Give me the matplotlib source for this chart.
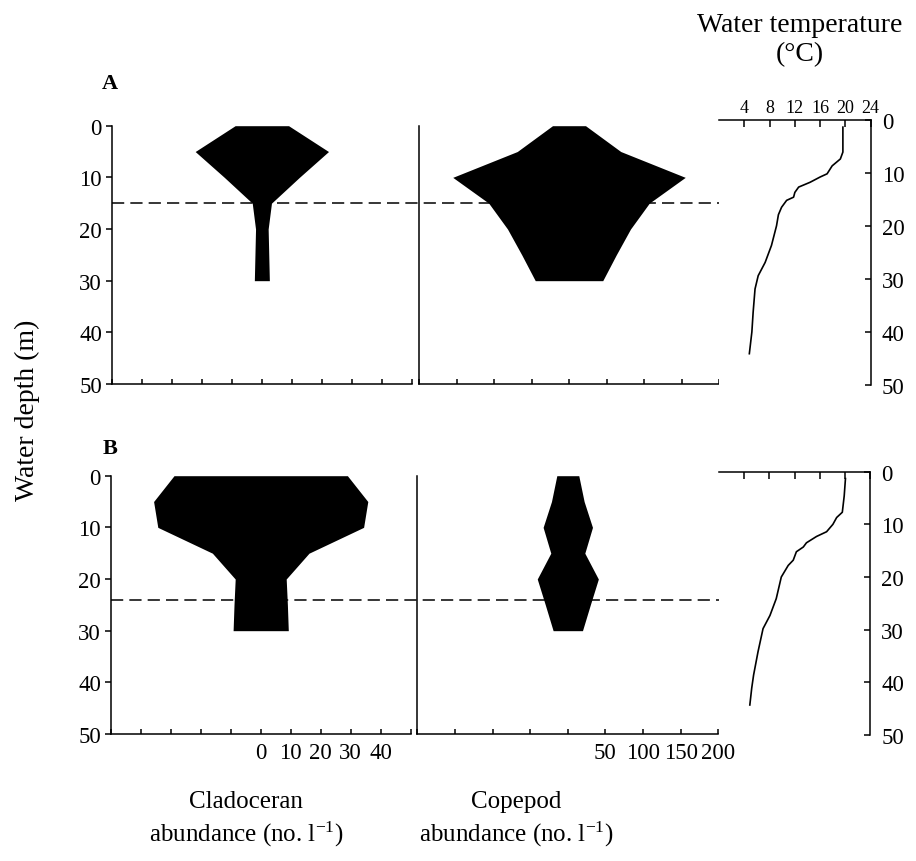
import numpy as np
import matplotlib
matplotlib.use("Agg")
import matplotlib.pyplot as plt
from matplotlib.lines import Line2D
from matplotlib.transforms import blended_transform_factory

plt.rcParams['font.family'] = ['Liberation Serif', 'DejaVu Serif']
plt.rcParams['mathtext.default'] = 'regular'

# --- sampling depths of the net hauls (m) ---
kite_depth = [0, 5, 10, 15, 20, 25, 30]

# kite half-widths (abundance, no. l-1)
clad_a = [8.9, 22.2, 12.5, 3.2, 2.1, 2.3, 2.5]
cope_a = [22, 69, 155, 107, 82, 63, 45]
clad_b = [28.9, 35.7, 34.3, 16.1, 8.5, 8.9, 9.2]
cope_b = [14.6, 21.7, 32.8, 22.6, 40.6, 29.9, 19.5]

# thermocline depth (dashed line)
thermo_a = 15
thermo_b = 24

# --- temperature profiles ---
temp_depth_a = [1.4, 6.1, 7.4, 8.7, 10.2, 10.8, 11.8, 12.7, 13.7, 14.6, 15.2,
                16.5, 17.9, 20.0, 23.7, 26.9, 29.4, 31.9, 36.3, 40.0, 44.1]
temp_a = [19.6, 19.6, 19.2, 17.9, 17.1, 16.0, 14.4, 12.6, 12.0, 11.8, 10.7,
          9.9, 9.4, 9.1, 8.3, 7.3, 6.2, 5.7, 5.4, 5.2, 4.8]
temp_depth_b = [1.3, 4.6, 7.7, 8.7, 10.0, 11.4, 12.3, 13.5, 14.3, 15.2, 16.8,
                17.8, 20.0, 24.1, 27.3, 29.8, 34.2, 38.6, 41.1, 44.3]
temp_b = [20.1, 19.9, 19.6, 18.7, 18.1, 17.1, 15.5, 13.9, 13.4, 12.3, 11.8,
          11.0, 9.9, 9.1, 8.1, 7.0, 6.2, 5.5, 5.2, 4.9]

depth_ticks = [0, 10, 20, 30, 40, 50]
clad_ticks = list(range(-50, 51, 10))
clad_labels = ['0', '10', '20', '30', '40']
cope_ticks = list(range(-200, 201, 50))
cope_labels = ['50', '100', '150', '200']
temp_ticks = [4, 8, 12, 16, 20, 24]

W, H = 916, 862
fig = plt.figure(figsize=(W / 100, H / 100), dpi=100)


def box(x0, x1, ytop, ybot):
    return [x0 / W, 1 - ybot / H, (x1 - x0) / W, (ybot - ytop) / H]


LW = 1.1
TICK_FS = 16.5


def kite_axes(rect, depth, vals, lim, ticks, labels, show_labels, first):
    ax = fig.add_axes(rect)
    ax.fill_betweenx(depth, -np.array(vals), np.array(vals), color='black', lw=0)
    ax.set_xlim(-lim, lim)
    ax.set_ylim(50, 0)
    for s in ['top', 'right']:
        ax.spines[s].set_visible(False)
    for s in ['left', 'bottom']:
        ax.spines[s].set_linewidth(LW)
    ax.set_xticks(ticks)
    if show_labels:
        shown = [str(t) if str(t) in labels else '' for t in ticks]
        ax.set_xticklabels(shown, fontsize=TICK_FS)
    else:
        ax.set_xticklabels([])
    ax.tick_params(axis='x', direction='in', length=3.5, width=LW, pad=6)
    if first:
        ax.set_yticks(depth_ticks)
        ax.set_yticklabels([str(t) for t in depth_ticks], fontsize=TICK_FS)
        ax.tick_params(axis='y', direction='out', length=4, width=LW, pad=3)
    else:
        ax.set_yticks([])
    return ax


def temp_axes(rect, depth, temp, show_labels):
    ax = fig.add_axes(rect)
    ax.plot(temp, depth, color='black', lw=1.2)
    ax.set_xlim(0, 24)
    ax.set_ylim(50, 0)
    for s in ['left', 'bottom']:
        ax.spines[s].set_visible(False)
    for s in ['top', 'right']:
        ax.spines[s].set_linewidth(LW)
    ax.xaxis.tick_top()
    ax.set_xticks(temp_ticks)
    if show_labels:
        ax.set_xticklabels([str(t) for t in temp_ticks], fontsize=13)
    else:
        ax.set_xticklabels([])
    ax.tick_params(axis='x', direction='in', length=5, width=LW, pad=3)
    ax.yaxis.tick_right()
    ax.set_yticks(depth_ticks)
    ax.set_yticklabels([str(t) for t in depth_ticks], fontsize=TICK_FS)
    ax.tick_params(axis='y', direction='in', length=4, width=LW, pad=8)
    return ax


def thermocline(ax_from, ax_to, depth):
    x0 = ax_from.get_position().x0
    x1 = ax_to.get_position().x0
    tr = blended_transform_factory(fig.transFigure, ax_from.transData)
    fig.add_artist(Line2D([x0, x1], [depth, depth], transform=tr, color='black',
                          lw=1.1, dashes=(8, 4)))


# panel A
axA1 = kite_axes(box(111.7, 412, 126.7, 385), kite_depth, clad_a, 50,
                 clad_ticks, clad_labels, False, True)
axA2 = kite_axes(box(419, 719, 126.7, 385), kite_depth, cope_a, 200,
                 cope_ticks, cope_labels, False, False)
axA3 = temp_axes(box(719, 870.7, 120.7, 386), temp_depth_a, temp_a, True)
thermocline(axA1, axA3, thermo_a)

# panel B
axB1 = kite_axes(box(110.7, 410.7, 476.7, 735), kite_depth, clad_b, 50,
                 clad_ticks, clad_labels, True, True)
axB2 = kite_axes(box(417.3, 718.3, 476.7, 735), kite_depth, cope_b, 200,
                 cope_ticks, cope_labels, True, False)
axB3 = temp_axes(box(719, 870, 472.7, 736), temp_depth_b, temp_b, False)
thermocline(axB1, axB3, thermo_b)

fig.text(110 / W, 1 - 84 / H, 'A', fontsize=16, fontweight='bold', ha='center', va='center')
fig.text(110 / W, 1 - 449 / H, 'B', fontsize=16, fontweight='bold', ha='center', va='center')

fig.text(27 / W, 1 - 410 / H, 'Water depth (m)', fontsize=20, rotation=90,
         ha='center', va='center')
fig.text(800 / W, 1 - 40 / H, 'Water temperature\n(\u00b0C)', fontsize=20,
         ha='center', va='center', linespacing=1.25)
fig.text(246 / W, 1 - 820 / H, 'Cladoceran\nabundance (no. l$^{-1}$)', fontsize=18,
         ha='center', va='center', linespacing=1.35)
fig.text(516 / W, 1 - 820 / H, 'Copepod\nabundance (no. l$^{-1}$)', fontsize=18,
         ha='center', va='center', linespacing=1.35)

fig.savefig('out.png', dpi=100)
